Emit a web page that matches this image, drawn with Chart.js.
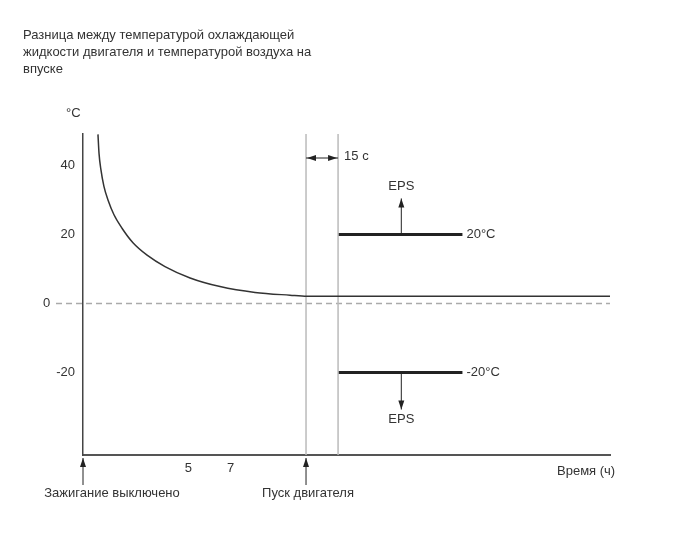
<!DOCTYPE html>
<html>
<head>
<meta charset="utf-8">
<script src="https://cdn.jsdelivr.net/npm/chart.js@4/dist/chart.umd.min.js"></script>
<style>
  html, body { margin: 0; padding: 0; background: #fff; }
  canvas { display: block; }
</style>
</head>
<body>
<canvas id="chart" width="690" height="549"></canvas>
<script>
const titleLines = [
  "Разница между температурой охлаждающей",
  "жидкости двигателя и температурой воздуха на",
  "впуске"
];
const hours = [0.71, 0.76, 0.85, 0.99, 1.19, 1.47, 1.85, 2.37, 3.04, 3.89, 5.08, 6.5, 8.16, 9.82, 10.63, 25];
const tempDiff = [49, 43.5, 38.75, 34.0, 29.9, 25.7, 21.8, 17.6, 14.0, 10.7, 7.4, 4.9, 3.2, 2.4, 2.1, 2.1];
const xTicks = [5, 7];
const yTicks = [40, 20, 0, -20];
const xRange = [0, 25];
const yRange = [-43.9, 49.1];
const ignitionOff = 0;
const engineStart = 10.58;
const delayEnd = 12.1;      // engine start + 15 s (not to scale)
const epsEnd = 18.0;
const epsArrowAt = 15.1;
const epsLimits = [20, -20];
const epsLabels = ["20°C", "-20°C"];

const font = '"Liberation Sans", Arial, sans-serif';
const textColor = "#333";

function arrowHead(c, x, y, dir) {
  // dir: "up" | "down" | "left" | "right", tip at (x, y)
  const l = 9, w = 3;
  c.beginPath();
  c.moveTo(x, y);
  if (dir === "up") { c.lineTo(x - w, y + l); c.lineTo(x + w, y + l); }
  if (dir === "down") { c.lineTo(x - w, y - l); c.lineTo(x + w, y - l); }
  if (dir === "left") { c.lineTo(x + l, y - w); c.lineTo(x + l, y + w); }
  if (dir === "right") { c.lineTo(x - l, y - w); c.lineTo(x - l, y + w); }
  c.closePath();
  c.fill();
}

const vline = x => [{ x, y: yRange[0] }, { x, y: yRange[1] }];

const annotations = {
  id: "annotations",
  beforeDatasetsDraw(chart) {
    const c = chart.ctx, ys = chart.scales.y;
    const y0 = ys.getPixelForValue(0);
    c.save();
    c.strokeStyle = "#aaa";
    c.lineWidth = 1.5;
    c.setLineDash([6, 4]);
    c.beginPath();
    c.moveTo(56, y0);
    c.lineTo(chart.chartArea.right, y0);
    c.stroke();
    c.restore();
  },
  afterDraw(chart) {
    const c = chart.ctx, xs = chart.scales.x, ys = chart.scales.y;
    const area = chart.chartArea;
    c.save();
    c.fillStyle = textColor;
    c.font = "13px " + font;
    c.textBaseline = "middle";

    // title
    c.textAlign = "left";
    titleLines.forEach((t, i) => c.fillText(t, 23, 35 + i * 17));
    c.fillText("°C", 66, 113);
    c.fillText("0", 43, ys.getPixelForValue(0));
    c.fillText("Время (ч)", 557, 471);

    // 15 s dimension
    const xa = xs.getPixelForValue(engineStart), xb = xs.getPixelForValue(delayEnd);
    const yd = area.top + 24;
    c.fillStyle = "#222";
    c.strokeStyle = "#222";
    c.lineWidth = 1;
    c.beginPath();
    c.moveTo(xa, yd); c.lineTo(xb, yd); c.stroke();
    arrowHead(c, xa + 1, yd, "left");
    arrowHead(c, xb - 1, yd, "right");
    c.fillStyle = textColor;
    c.fillText("15 c", xb + 6, yd - 2);

    // EPS arrows and labels
    const xe = xs.getPixelForValue(epsArrowAt);
    epsLimits.forEach((v, i) => {
      const yl = ys.getPixelForValue(v);
      const up = v > 0;
      const tip = up ? yl - 36 : yl + 37;
      c.strokeStyle = "#222";
      c.fillStyle = "#222";
      c.beginPath();
      c.moveTo(xe, yl); c.lineTo(xe, tip); c.stroke();
      arrowHead(c, xe, tip, up ? "up" : "down");
      c.fillStyle = textColor;
      c.textAlign = "center";
      c.fillText("EPS", xe, up ? tip - 12 : tip + 10);
      c.textAlign = "left";
      c.fillText(epsLabels[i], xs.getPixelForValue(epsEnd) + 4, yl);
    });

    // bottom event arrows
    [[ignitionOff, "Зажигание выключено"], [engineStart, "Пуск двигателя"]].forEach(([t, label]) => {
      const x = xs.getPixelForValue(t);
      c.strokeStyle = "#222";
      c.fillStyle = "#222";
      c.beginPath();
      c.moveTo(x, area.bottom + 3); c.lineTo(x, area.bottom + 30); c.stroke();
      arrowHead(c, x, area.bottom + 3, "up");
      c.fillStyle = textColor;
      c.textAlign = "center";
      c.fillText(label, t === 0 ? x + 29 : x + 2, area.bottom + 38);
    });
    c.restore();
  }
};

new Chart(document.getElementById("chart"), {
  type: "line",
  data: {
    datasets: [
      {
        data: hours.map((h, i) => ({ x: h, y: tempDiff[i] })),
        borderColor: "#333",
        borderWidth: 1.5,
        cubicInterpolationMode: "monotone"
      },
      { data: vline(engineStart), borderColor: "#bbb", borderWidth: 1.5 },
      { data: vline(delayEnd), borderColor: "#bbb", borderWidth: 1.5 },
      ...epsLimits.map(v => ({
        data: [{ x: delayEnd, y: v }, { x: epsEnd, y: v }],
        borderColor: "#222",
        borderWidth: 3
      }))
    ]
  },
  options: {
    responsive: false,
    animation: false,
    layout: { padding: { top: 134, right: 80, left: 0, bottom: 0 } },
    elements: { point: { radius: 0 } },
    plugins: { legend: { display: false }, tooltip: { enabled: false } },
    scales: {
      x: {
        type: "linear",
        min: xRange[0],
        max: xRange[1],
        afterFit: s => { s.height = 94; },
        afterBuildTicks: s => { s.ticks = xTicks.map(v => ({ value: v })); },
        grid: { display: false, drawTicks: false },
        border: { color: "#555", width: 2 },
        ticks: { color: textColor, font: { family: font, size: 13 }, padding: 6, maxRotation: 0 }
      },
      y: {
        min: yRange[0],
        max: yRange[1],
        afterFit: s => { s.width = 83; },
        afterBuildTicks: s => { s.ticks = yTicks.map(v => ({ value: v })); },
        grid: { display: false, drawTicks: false },
        border: { color: "#444", width: 1.5 },
        ticks: {
          color: textColor,
          font: { family: font, size: 13 },
          padding: 8,
          callback: v => (v === 0 ? "" : v)
        }
      }
    }
  },
  plugins: [annotations]
});
</script>
</body>
</html>
